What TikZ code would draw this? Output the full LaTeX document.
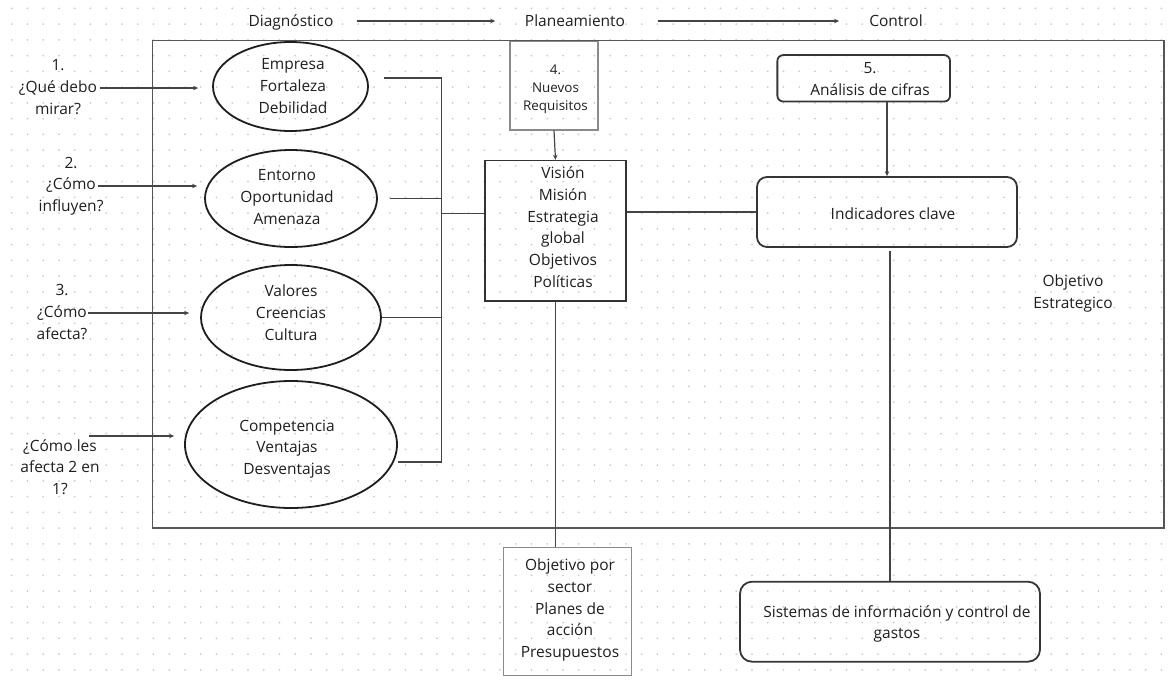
\documentclass[tikz,border=0pt]{standalone}
\usepackage{fontspec}
\setmainfont{Open Sans}
\usetikzlibrary{shapes.geometric,arrows.meta,calc}
\definecolor{ink}{HTML}{1E1E1E}
\definecolor{boxline}{HTML}{333333}
\definecolor{wire}{HTML}{444444}
\definecolor{framegray}{HTML}{555555}
\definecolor{softgray}{HTML}{8A8A8A}
\definecolor{griddot}{HTML}{C9CAD3}
\begin{document}
\begin{tikzpicture}[x=1pt,y=-1pt,
  txt/.style={font=\fontsize{15.5}{21.7}\selectfont, text=ink, align=center, inner sep=0pt},
  one/.style={txt, text height=11pt, text depth=0pt},
  small/.style={font=\fontsize{13.4}{18}\selectfont, text=ink, align=center, inner sep=0pt},
  oval/.style={ellipse, draw=ink, line width=1.8pt, inner sep=0pt},
  plainbox/.style={rectangle, draw=#1, line width=1.3pt, inner sep=0pt},
  plainbox/.default=boxline,
  roundbox/.style={rectangle, draw=ink!90, line width=1.8pt, rounded corners=#1, inner sep=0pt},
  roundbox/.default=8pt,
  wireline/.style={draw=wire, line width=1.2pt},
  arrowline/.style={wireline, -{Stealth[length=5pt,width=4.5pt]}},
]
\useasboundingbox (0,0) rectangle (1170,681);

% dotted background grid
\foreach \i in {0,...,74}
  \foreach \j in {0,...,43}
    \fill[griddot] (11.7+15.75*\i, 8.3+15.75*\j) circle (1pt);

% strategic region
\node[rectangle, draw=framegray, line width=1.5pt, minimum width=1011.5pt, minimum height=487.5pt, inner sep=0pt] (region) at (658.25,284.25) {};

% process stages
\node[one] (diag) at (291,21) {Diagnóstico};
\node[one] (plan) at (575,21) {Planeamiento};
\node[one] (ctrl) at (896,21) {Control};
\draw[arrowline, shorten <=23.5pt, shorten >=29.5pt] (diag.east) -- (plan.west);
\draw[arrowline, shorten <=32.5pt, shorten >=30pt] (plan.east) -- (ctrl.west);

% diagnosis ovals
\node[oval, minimum width=155pt, minimum height=89pt] (e1) at (290.5,86.5) {};
\node[txt] (e1txt) at (293,86) {Empresa\\Fortaleza\\Debilidad};
\node[oval, minimum width=172pt, minimum height=97pt] (e2) at (291,198.5) {};
\node[txt] (e2txt) at (287,197) {Entorno\\Oportunidad\\Amenaza};
\node[oval, minimum width=180pt, minimum height=105pt] (e3) at (291,317.5) {};
\node[txt] (e3txt) at (291,312.5) {Valores\\Creencias\\Cultura};
\node[oval, minimum width=212pt, minimum height=127pt] (e4) at (291,444.5) {};
\node[txt] (e4txt) at (287,449) {Competencia\\Ventajas\\Desventajas};

% guiding questions
\node[txt] (q1) at (58,87) {1.\\¿Qué debo\\mirar?};
\node[txt] (q2) at (71,186) {2.\\¿Cómo\\influyen?};
\node[txt] (q3) at (62,312) {3.\\¿Cómo\\afecta?};
\node[txt] (q4) at (60,467) {¿Cómo les\\afecta 2 en\\1?};
\coordinate (t1) at (100,88);
\coordinate (t2) at (98,186);
\coordinate (t3) at (88,313);
\coordinate (t4) at (89,436);
\draw[arrowline, shorten >=14pt] (t1) -- (t1 -| e1.west);
\draw[arrowline, shorten >=7pt] (t2) -- (t2 -| e2.west);
\draw[arrowline, shorten >=11pt] (t3) -- (t3 -| e3.west);
\draw[arrowline, shorten >=10pt] (t4) -- (t4 -| e4.west);

% planning core
\node[plainbox, minimum width=141pt, minimum height=140.5pt] (vision) at (555.5,230.75) {};
\node[txt] (visiontxt) at (563,227) {Visión\\Misión\\Estrategia\\global\\Objetivos\\Políticas};
\node[plainbox=softgray, minimum width=88pt, minimum height=88.5pt] (req) at (554,85.75) {};
\node[small] (reqtxt) at (555.5,89) {4.\\Nuevos\\Requisitos};
\node[plainbox=softgray, minimum width=128.4pt, minimum height=128.4pt] (obj) at (567.5,611.5) {};
\node[txt] (objtxt) at (570,610) {Objetivo por\\sector\\Planes de\\acción\\Presupuestos};

% collecting bus from the ovals
\coordinate (bus) at (441.5,0);
\coordinate (j1) at ($(e1.east)+(15,-8.5)$);
\coordinate (j2) at ($(e2.east)+(12,0)$);
\coordinate (j4) at ($(e4.east)+(0,17.5)$);
\draw[wireline] (j1) -| (bus |- j4) -- (j4);
\draw[wireline] (j2) -- (j2 -| bus);
\draw[wireline] (e3.east) -- (e3.east -| bus);
\draw[wireline] ([yshift=17.5pt]vision.west -| bus) -- ([yshift=17.5pt]vision.west);

\draw[arrowline] (req.south) -- (vision.north);
\draw[wireline] (vision.south) -- (vision.south |- obj.north);

% control side
\node[roundbox=6pt, minimum width=172.7pt, minimum height=46.5pt] (ana) at (863.7,78.3) {};
\node[txt] (anatxt) at (870,78.7) {5.\\Análisis de cifras};
\node[roundbox=10pt, minimum width=260pt, minimum height=70pt] (ind) at (887,212) {};
\node[one] (indtxt) at (893,214) {Indicadores clave};
\node[roundbox=12pt, minimum width=300pt, minimum height=80pt] (sis) at (890,621.7) {};
\node[txt] (sistxt) at (897,624) {Sistemas de información y control de\\gastos};
\node[txt] (goal) at (1073,293.5) {Objetivo\\Estrategico};

\coordinate (ctrlx) at (887,0);
\draw[arrowline] (ana.south -| ctrlx) -- (ind.north -| ctrlx);
\draw[wireline] (vision.east |- ind.west) -- (ind.west);
\draw[wireline] ([yshift=-3pt]ind.south -| sis.north) -- (sis.north);
\end{tikzpicture}
\end{document}
